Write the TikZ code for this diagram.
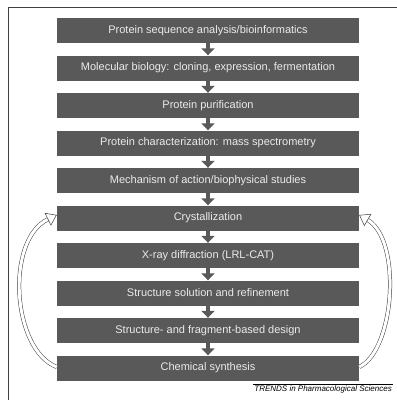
\documentclass[tikz,border=0pt]{standalone}
\usepackage{fontspec}
\setmainfont{Liberation Sans}
\usetikzlibrary{arrows.meta,positioning}

\tikzset{
  stage/.style={rectangle,fill=boxgray,text=black!8,minimum width=302pt,
    minimum height=25pt,inner sep=0pt,font=\fontsize{11}{13}\selectfont},
  flow/.style={boxgray,line width=4.5pt,-{Triangle[length=7pt,width=13pt]}},
  loop arrow/.style={black!75,line width=0.5pt,double=white,double distance=3pt,
    -{Triangle[open,length=10pt,width=14pt]}}
}

\begin{document}
\begin{tikzpicture}[x=1pt,y=-1pt]
\definecolor{boxgray}{rgb}{0.35,0.35,0.35}
\useasboundingbox (0,0) rectangle (397,400);
\fill[white] (0,0) rectangle (397,400);
\draw[black!75,line width=0.7pt] (8,400) -- (8,7) -- (397,7);
\node[stage] (ps) at (208,30.5) {Protein sequence analysis/bioinformatics};
\node[stage,below=12.1pt of ps] (mb) {Molecular biology: cloning, expression, fermentation};
\node[stage,below=12.1pt of mb] (pp) {Protein purification};
\node[stage,below=12.1pt of pp] (pc) {Protein characterization: mass spectrometry};
\node[stage,below=12.1pt of pc] (ma) {Mechanism of action/biophysical studies};
\node[stage,below=12.1pt of ma] (cr) {Crystallization};
\node[stage,below=12.1pt of cr] (xr) {X-ray diffraction (LRL-CAT)};
\node[stage,below=12.1pt of xr] (ss) {Structure solution and refinement};
\node[stage,below=12.1pt of ss] (sd) {Structure- and fragment-based design};
\node[stage,below=12.1pt of sd] (cs) {Chemical synthesis};
\draw[flow] ([yshift=2pt]ps.south) -- (mb.north);
\draw[flow] ([yshift=2pt]mb.south) -- (pp.north);
\draw[flow] ([yshift=2pt]pp.south) -- (pc.north);
\draw[flow] ([yshift=2pt]pc.south) -- (ma.north);
\draw[flow] ([yshift=2pt]ma.south) -- (cr.north);
\draw[flow] ([yshift=2pt]cr.south) -- (xr.north);
\draw[flow] ([yshift=2pt]xr.south) -- (ss.north);
\draw[flow] ([yshift=2pt]ss.south) -- (sd.north);
\draw[flow] ([yshift=2pt]sd.south) -- (cs.north);
\draw[loop arrow] ([yshift=1pt]cs.west) .. controls (12,350) and (5,240) .. ([yshift=3pt]cr.west);
\draw[loop arrow] ([yshift=1pt]cs.east) .. controls (395,350) and (402,240) .. ([yshift=3pt]cr.east);
\node[anchor=north east,inner sep=1pt,font=\fontsize{8}{10}\itshape\selectfont] (cap) at (393,384) {TRENDS in Pharmacological Sciences};
\draw[black,line width=0.5pt] (cap.north west) -- (cap.north east);
\end{tikzpicture}
\end{document}
